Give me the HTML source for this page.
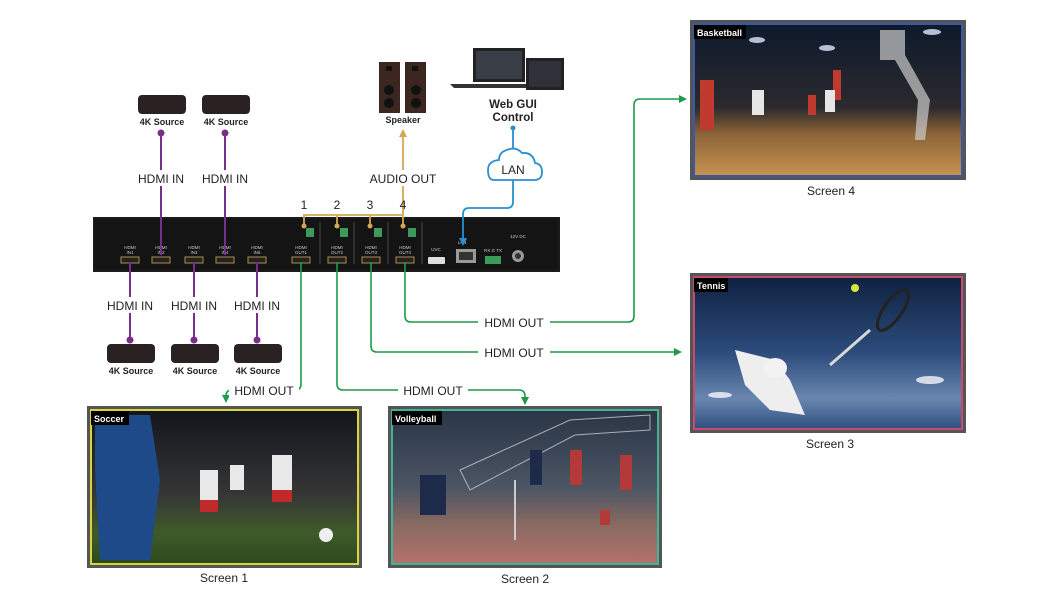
<!DOCTYPE html>
<html><head><meta charset="utf-8"><style>
html,body{margin:0;padding:0;background:#fff;}
svg{display:block;font-family:"Liberation Sans",sans-serif;}
</style></head><body>
<svg width="1058" height="595" viewBox="0 0 1058 595" xmlns="http://www.w3.org/2000/svg">
<defs>
<marker id="ag" markerWidth="8" markerHeight="8" refX="6" refY="4" orient="auto" markerUnits="userSpaceOnUse"><path d="M0,0 L8,4 L0,8 z" fill="#1e9a4a"/></marker>
<marker id="ao" markerWidth="8" markerHeight="8" refX="6" refY="4" orient="auto" markerUnits="userSpaceOnUse"><path d="M0,0 L8,4 L0,8 z" fill="#d4a755"/></marker>
<marker id="ab" markerWidth="8" markerHeight="8" refX="6" refY="4" orient="auto" markerUnits="userSpaceOnUse"><path d="M0,0 L8,4 L0,8 z" fill="#2a8fd0"/></marker>
<linearGradient id="bb" x1="0" y1="0" x2="0" y2="1"><stop offset="0" stop-color="#0d1a2c"/><stop offset="0.55" stop-color="#2b2a2e"/><stop offset="0.72" stop-color="#8a6338"/><stop offset="1" stop-color="#c8924f"/></linearGradient>
<linearGradient id="tn" x1="0" y1="0" x2="0" y2="1"><stop offset="0" stop-color="#0f2140"/><stop offset="0.5" stop-color="#2c4c7c"/><stop offset="0.8" stop-color="#6a86b0"/><stop offset="1" stop-color="#2e4f80"/></linearGradient>
<linearGradient id="sc" x1="0" y1="0" x2="0" y2="1"><stop offset="0" stop-color="#12151c"/><stop offset="0.55" stop-color="#363636"/><stop offset="0.8" stop-color="#3f5a2a"/><stop offset="1" stop-color="#2c4a1e"/></linearGradient>
<linearGradient id="vb" x1="0" y1="0" x2="0" y2="1"><stop offset="0" stop-color="#2a3545"/><stop offset="0.5" stop-color="#4b5564"/><stop offset="0.75" stop-color="#8a6a62"/><stop offset="1" stop-color="#b5716a"/></linearGradient>
</defs>

<!-- Screens -->
<g>
<rect x="690" y="20" width="276" height="160" fill="#555"/>
<rect x="694" y="24" width="268" height="152" fill="url(#bb)" stroke="#3a57a8" stroke-width="2"/>
<g fill="#dfe8ff" opacity="0.8"><ellipse cx="757" cy="40" rx="8" ry="3"/><ellipse cx="827" cy="48" rx="8" ry="3"/><ellipse cx="932" cy="32" rx="9" ry="3"/></g>
<g fill="#c03a30"><rect x="700" y="80" width="14" height="50"/><rect x="833" y="70" width="8" height="30"/><rect x="808" y="95" width="8" height="20"/></g>
<g fill="#e6e6e6"><rect x="752" y="90" width="12" height="25"/><rect x="825" y="90" width="10" height="22"/></g>
<path d="M880,30 L905,30 L905,55 L930,100 L925,140 L915,140 L918,100 L895,60 L880,60 Z" fill="#ccc" opacity="0.7"/>
<rect x="694" y="25" width="52" height="14" fill="#000"/>
<text x="697" y="36" font-size="9" font-weight="bold" fill="#fff">Basketball</text>
<text x="831" y="195" font-size="12" text-anchor="middle" fill="#222">Screen 4</text>

<rect x="690" y="273" width="276" height="160" fill="#555"/>
<rect x="694" y="277" width="268" height="152" fill="url(#tn)" stroke="#c84a6f" stroke-width="2"/>
<g fill="#fff" opacity="0.75"><ellipse cx="720" cy="395" rx="12" ry="3"/><ellipse cx="780" cy="385" rx="10" ry="3"/><ellipse cx="930" cy="380" rx="14" ry="4"/></g>
<path d="M735,350 L775,360 L790,380 L805,415 L770,410 L745,385 Z" fill="#eee"/>
<ellipse cx="775" cy="368" rx="12" ry="10" fill="#f2f2f2"/>
<line x1="830" y1="365" x2="870" y2="330" stroke="#d8d8d8" stroke-width="3"/>
<ellipse cx="893" cy="310" rx="9" ry="24" transform="rotate(35 893 310)" fill="none" stroke="#222" stroke-width="3"/>
<circle cx="855" cy="288" r="4" fill="#d8e53a"/>
<rect x="694" y="278" width="34" height="14" fill="#000"/>
<text x="697" y="289" font-size="9" font-weight="bold" fill="#fff">Tennis</text>
<text x="830" y="448" font-size="12" text-anchor="middle" fill="#222">Screen 3</text>

<rect x="87" y="406" width="275" height="162" fill="#555"/>
<rect x="91" y="410" width="267" height="154" fill="url(#sc)" stroke="#d8d43a" stroke-width="2"/>
<path d="M95,415 L150,415 L160,480 L150,560 L100,560 L95,470 Z" fill="#1f4a8a"/>
<g fill="#e8e8e8"><rect x="200" y="470" width="18" height="30"/><rect x="272" y="455" width="20" height="35"/><rect x="230" y="465" width="14" height="25"/></g>
<g fill="#c02a2a"><rect x="200" y="500" width="18" height="12"/><rect x="272" y="490" width="20" height="12"/></g>
<circle cx="326" cy="535" r="7" fill="#eee"/>
<rect x="91" y="411" width="38" height="14" fill="#000"/>
<text x="94" y="422" font-size="9" font-weight="bold" fill="#fff">Soccer</text>
<text x="224" y="582" font-size="12" text-anchor="middle" fill="#222">Screen 1</text>

<rect x="388" y="406" width="274" height="162" fill="#555"/>
<rect x="392" y="410" width="266" height="154" fill="url(#vb)" stroke="#3fb39a" stroke-width="2"/>
<path d="M460,470 L570,420 L650,415 L650,430 L575,435 L470,490 Z" fill="none" stroke="#ddd" stroke-width="1" opacity="0.7"/>
<line x1="515" y1="480" x2="515" y2="540" stroke="#ccc" stroke-width="2"/>
<g fill="#1d2a4a"><rect x="420" y="475" width="26" height="40"/><rect x="530" y="450" width="12" height="35"/></g>
<g fill="#b43a3a"><rect x="570" y="450" width="12" height="35"/><rect x="620" y="455" width="12" height="35"/><rect x="600" y="510" width="10" height="15"/></g>
<rect x="392" y="411" width="50" height="14" fill="#000"/>
<text x="395" y="422" font-size="9" font-weight="bold" fill="#fff">Volleyball</text>
<text x="525" y="583" font-size="12" text-anchor="middle" fill="#222">Screen 2</text>
</g>

<!-- Device -->
<rect x="93" y="217" width="467" height="55" fill="#1b1b1b"/>
<rect x="95" y="219" width="463" height="51" fill="#141414"/>
<g fill="#ccc" font-size="4.5" text-anchor="middle">
<text x="130" y="249">HDMI</text><text x="130" y="254">IN1</text>
<text x="161" y="249">HDMI</text><text x="161" y="254">IN2</text>
<text x="194" y="249">HDMI</text><text x="194" y="254">IN3</text>
<text x="225" y="249">HDMI</text><text x="225" y="254">IN4</text>
<text x="257" y="249">HDMI</text><text x="257" y="254">IN5</text>
<text x="301" y="249">HDMI</text><text x="301" y="254">OUT1</text>
<text x="337" y="249">HDMI</text><text x="337" y="254">OUT2</text>
<text x="371" y="249">HDMI</text><text x="371" y="254">OUT3</text>
<text x="405" y="249">HDMI</text><text x="405" y="254">OUT4</text>
<text x="436" y="251">UVC</text><text x="462" y="244">LAN</text><text x="493" y="252">RX G TX</text><text x="518" y="238">12V DC</text>
</g>
<g fill="#222" stroke="#b08a4a" stroke-width="1">
<rect x="121" y="257" width="18" height="6"/><rect x="152" y="257" width="18" height="6"/><rect x="185" y="257" width="18" height="6"/><rect x="216" y="257" width="18" height="6"/><rect x="248" y="257" width="18" height="6"/>
<rect x="292" y="257" width="18" height="6"/><rect x="328" y="257" width="18" height="6"/><rect x="362" y="257" width="18" height="6"/><rect x="396" y="257" width="18" height="6"/>
</g>
<g stroke="#555" stroke-width="0.8"><line x1="320" y1="222" x2="320" y2="264"/><line x1="354" y1="222" x2="354" y2="264"/><line x1="388" y1="222" x2="388" y2="264"/><line x1="422" y1="222" x2="422" y2="264"/></g>
<g fill="#3c9a5a"><rect x="306" y="228" width="8" height="9"/><rect x="340" y="228" width="8" height="9"/><rect x="374" y="228" width="8" height="9"/><rect x="408" y="228" width="8" height="9"/><rect x="485" y="256" width="16" height="8"/></g>
<rect x="428" y="257" width="17" height="7" rx="1" fill="#ddd"/>
<rect x="456" y="249" width="20" height="14" fill="#999"/><rect x="459" y="252" width="14" height="8" fill="#333"/>
<circle cx="518" cy="256" r="6" fill="#999"/><circle cx="518" cy="256" r="3" fill="#333"/>

<!-- Purple HDMI IN -->
<g stroke="#7a2e8a" stroke-width="2" fill="#7a2e8a">
<line x1="161" y1="133" x2="161" y2="255"/><line x1="225" y1="133" x2="225" y2="255"/>
<circle cx="161" cy="133" r="2.5"/><circle cx="225" cy="133" r="2.5"/>
<line x1="130" y1="262" x2="130" y2="340"/><line x1="194" y1="262" x2="194" y2="340"/><line x1="257" y1="262" x2="257" y2="340"/>
<circle cx="130" cy="340" r="2.5"/><circle cx="194" cy="340" r="2.5"/><circle cx="257" cy="340" r="2.5"/>
</g>
<g fill="#fff"><rect x="133" y="170" width="56" height="16"/><rect x="197" y="170" width="56" height="16"/><rect x="102" y="297" width="56" height="16"/><rect x="166" y="297" width="56" height="16"/><rect x="229" y="297" width="56" height="16"/></g>
<g font-size="12" fill="#222" text-anchor="middle">
<text x="161" y="183">HDMI IN</text><text x="225" y="183">HDMI IN</text>
<text x="130" y="310">HDMI IN</text><text x="194" y="310">HDMI IN</text><text x="257" y="310">HDMI IN</text>
</g>

<!-- Sources -->
<g fill="#2a2122">
<rect x="138" y="95" width="48" height="19" rx="4"/><rect x="202" y="95" width="48" height="19" rx="4"/>
<rect x="107" y="344" width="48" height="19" rx="4"/><rect x="171" y="344" width="48" height="19" rx="4"/><rect x="234" y="344" width="48" height="19" rx="4"/>
</g>
<g font-size="9" font-weight="bold" fill="#222" text-anchor="middle">
<text x="162" y="125">4K Source</text><text x="226" y="125">4K Source</text>
<text x="131" y="374">4K Source</text><text x="195" y="374">4K Source</text><text x="258" y="374">4K Source</text>
</g>

<!-- Green HDMI OUT -->
<g stroke="#1e9a4a" stroke-width="1.6" fill="none">
<path d="M301,262 V384 Q301,390 295,390 H232 Q226,390 226,396 V401" marker-end="url(#ag)"/>
<path d="M337,262 V384 Q337,390 343,390 H519 Q525,390 525,396 V403" marker-end="url(#ag)"/>
<path d="M371,262 V346 Q371,352 377,352 H680" marker-end="url(#ag)"/>
<path d="M405,262 V316 Q405,322 411,322 H628 Q634,322 634,316 V105 Q634,99 640,99 H685" marker-end="url(#ag)"/>
</g>
<g fill="#fff"><rect x="229" y="382" width="70" height="16"/><rect x="398" y="382" width="70" height="16"/><rect x="478" y="344" width="72" height="16"/><rect x="478" y="314" width="72" height="16"/></g>
<g font-size="12" fill="#222" text-anchor="middle">
<text x="264" y="395">HDMI OUT</text><text x="433" y="395">HDMI OUT</text><text x="514" y="357">HDMI OUT</text><text x="514" y="327">HDMI OUT</text>
</g>

<!-- Audio -->
<g stroke="#d4a755" stroke-width="1.8" fill="none">
<path d="M304,226 V215 H403 V226"/><line x1="337" y1="215" x2="337" y2="226"/><line x1="370" y1="215" x2="370" y2="226"/>
<line x1="403" y1="215" x2="403" y2="131" marker-end="url(#ao)"/>
</g>
<g fill="#d4a755"><circle cx="304" cy="226" r="2.5"/><circle cx="337" cy="226" r="2.5"/><circle cx="370" cy="226" r="2.5"/><circle cx="403" cy="226" r="2.5"/></g>
<rect x="367" y="170" width="72" height="16" fill="#fff"/>
<text x="403" y="183" font-size="12" fill="#222" text-anchor="middle">AUDIO OUT</text>
<g font-size="12" fill="#222" text-anchor="middle"><text x="304" y="209">1</text><text x="337" y="209">2</text><text x="370" y="209">3</text><text x="403" y="209">4</text></g>

<!-- Speakers -->
<rect x="379" y="62" width="21" height="51" fill="#3b2620"/><rect x="405" y="62" width="21" height="51" fill="#3b2620"/>
<g fill="#111"><circle cx="389" cy="90" r="5"/><circle cx="389" cy="103" r="5"/><circle cx="416" cy="90" r="5"/><circle cx="416" cy="103" r="5"/><rect x="386" y="66" width="6" height="5"/><rect x="412" y="66" width="6" height="5"/></g>
<text x="403" y="123" font-size="9" font-weight="bold" fill="#222" text-anchor="middle">Speaker</text>

<!-- Laptop -->
<rect x="473" y="48" width="52" height="34" fill="#222"/><rect x="476" y="51" width="46" height="28" fill="#3a3f47"/>
<path d="M450,84 H548 L544,88 H454 Z" fill="#333"/>
<rect x="526" y="58" width="38" height="32" fill="#222"/><rect x="529" y="61" width="32" height="26" fill="#2e3238"/>
<text x="513" y="108" font-size="11.5" font-weight="bold" fill="#222" text-anchor="middle">Web GUI</text>
<text x="513" y="121" font-size="11.5" font-weight="bold" fill="#222" text-anchor="middle">Control</text>

<!-- LAN -->
<g stroke="#2a8fd0" stroke-width="1.8" fill="none">
<line x1="513" y1="128" x2="513" y2="150"/>
<line x1="513" y1="180" x2="513" y2="202"/>
<path d="M513,202 Q513,208 507,208 H469 Q463,208 463,214 V244" marker-end="url(#ab)"/>
</g>
<circle cx="513" cy="128" r="2.5" fill="#2a8fd0"/>
<path d="M494,180 H534 Q542,180 542,172 Q542,164 535,163 Q533,152 522,153 Q516,146 507,150 Q499,152 499,160 Q488,161 488,170 Q488,180 494,180 Z" fill="#fff" stroke="#2a8fd0" stroke-width="1.8"/>
<text x="513" y="174" font-size="12" fill="#222" text-anchor="middle">LAN</text>
</svg>
</body></html>
